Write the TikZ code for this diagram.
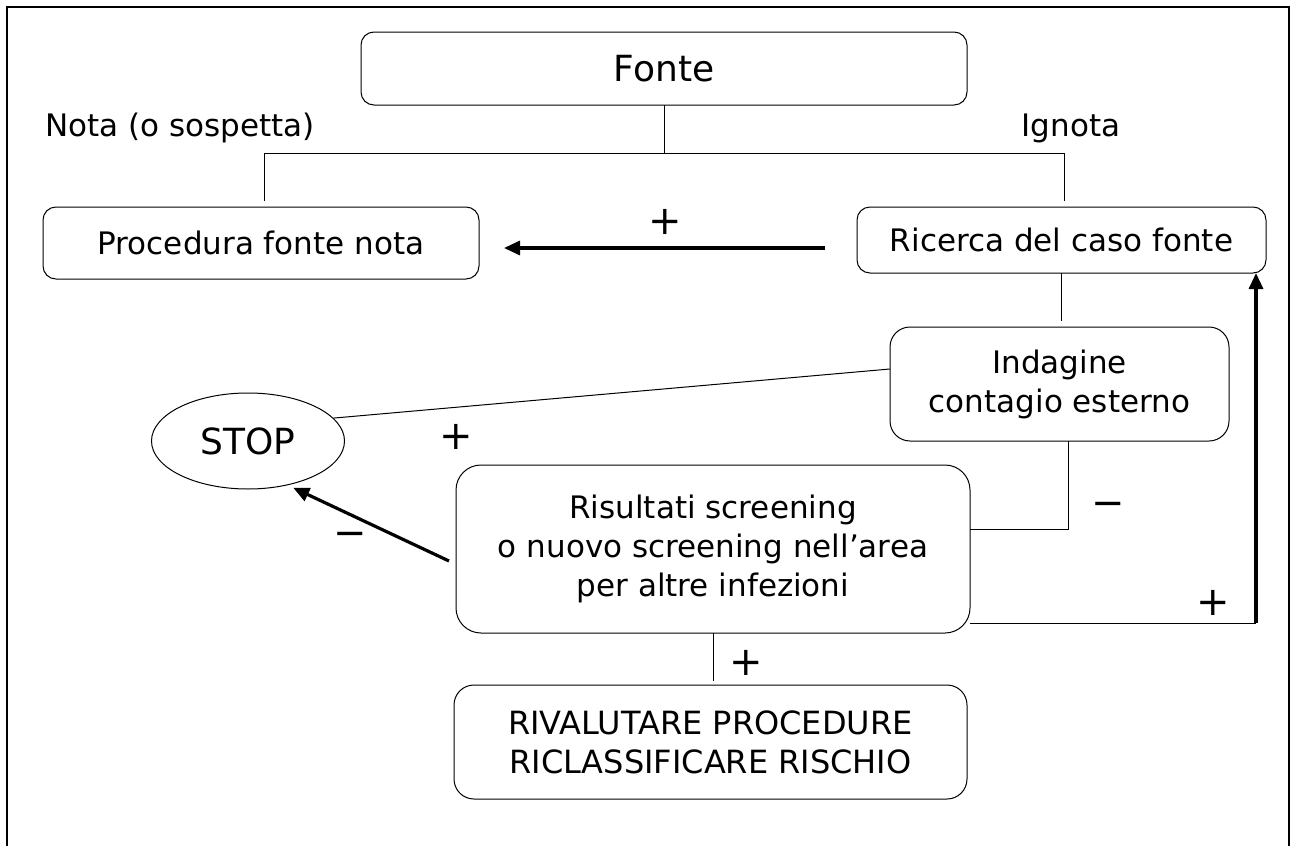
\documentclass[tikz,border=0pt]{standalone}
\usepackage{fontspec}
\setmainfont{DejaVu Sans}
\usetikzlibrary{arrows.meta,shapes.geometric}

\tikzset{every picture/.style={line width=0.5pt}}
\tikzset{
  box/.style={draw, rounded corners=#1, inner sep=0pt, outer sep=0pt, align=center, font=\fontsize{15.5}{19.5}\selectfont},
  box/.default=6.5pt,
  flow/.style={line width=1.6pt, -{Triangle[length=8pt,width=7pt]}},
  sign/.style={inner sep=0pt, font=\fontsize{20}{20}\selectfont},
  lbl/.style={inner sep=0pt, font=\fontsize{15.5}{20}\selectfont},
}

\begin{document}
\begin{tikzpicture}[x=0.5pt,y=0.5pt,yscale=-1,xscale=1]
\useasboundingbox (0,0) rectangle (1296,846);

%Frame
\draw [line width=1pt] (7,846) -- (7,7) -- (1289,7) -- (1289,846) ;

%Shape: Rounded Rect
\node [box, minimum width=303pt, minimum height=36.5pt, font=\fontsize{18}{20}\selectfont] (fonte) at (664,68.5) {Fonte};
%Shape: Rounded Rect
\node [box, minimum width=218pt, minimum height=36pt] (procedura) at (261,243) {Procedura fonte nota};
%Shape: Rounded Rect
\node [box, minimum width=204.5pt, minimum height=33pt] (ricerca) at (1061.5,240) {Ricerca del caso fonte};
%Shape: Rounded Rect
\node [box=10pt, minimum width=169.5pt, minimum height=57pt] (indagine) at (1059.5,384) {Indagine\\contagio esterno};
%Shape: Ellipse
\node [draw, ellipse, inner sep=0pt, minimum width=96.5pt, minimum height=48pt, font=\fontsize{18}{20}\selectfont] (stop) at (248,441) {STOP};
%Shape: Rounded Rect
\node [box=12.5pt, minimum width=257pt, minimum height=84pt] (risultati) at (713,549) {Risultati screening\\o nuovo screening nell’area\\per altre infezioni};
%Shape: Rounded Rect
\node [box=10pt, minimum width=256.5pt, minimum height=57pt, font=\fontsize{16}{19.5}\selectfont] (rivalutare) at (710.5,742) {RIVALUTARE PROCEDURE\\RICLASSIFICARE RISCHIO};

% Text Node
\node [lbl, anchor=west] (nota) at (45,128) {Nota (o sospetta)};
% Text Node
\node [lbl] (ignota) at (1071,128) {Ignota};

%Straight Lines
\coordinate (bl) at (264,153);
\coordinate (br) at (1064,153);
\coordinate (nl) at (264,201);
\coordinate (il) at (1064,201);
\draw (fonte.south) -- (fonte.south |- bl) ;
\draw (nl) -- (bl) -- (br) -- (il) ;

\coordinate (pa) at (825,248);
\draw [flow, shorten >=12.5pt] (pa) -- (procedura.east |- pa) ;

\draw [shorten >=3pt] (ricerca.south) -- (ricerca.south |- indagine.north) ;

\coordinate (iw) at (890,369);
\draw (iw) -- (stop.15) ;

\coordinate (rw) at (449,561);
\draw [flow, shorten >=3pt] (rw) -- (stop.-48) ;

\coordinate (ie) at (1068,529);
\draw (indagine.south -| ie) -- (ie) -- (risultati.east |- ie) ;

\coordinate (rc) at (1256,623);
\draw (risultati.east |- rc) -- (rc) ;
\draw [flow] (rc) -- (ricerca.south -| rc) ;

\draw [shorten >=2pt] (risultati.south) -- (risultati.south |- rivalutare.north) ;

% Text Node
\node [sign] (plusa) at (665,222) {+};
% Text Node
\node [sign] (plusb) at (456,437) {+};
% Text Node
\node [sign] (minusa) at (350,539) {−};
% Text Node
\node [sign] (minusb) at (1108,509) {−};
% Text Node
\node [sign] (plusc) at (1213,603) {+};
% Text Node
\node [sign] (plusd) at (746,663) {+};

\end{tikzpicture}
\end{document}
